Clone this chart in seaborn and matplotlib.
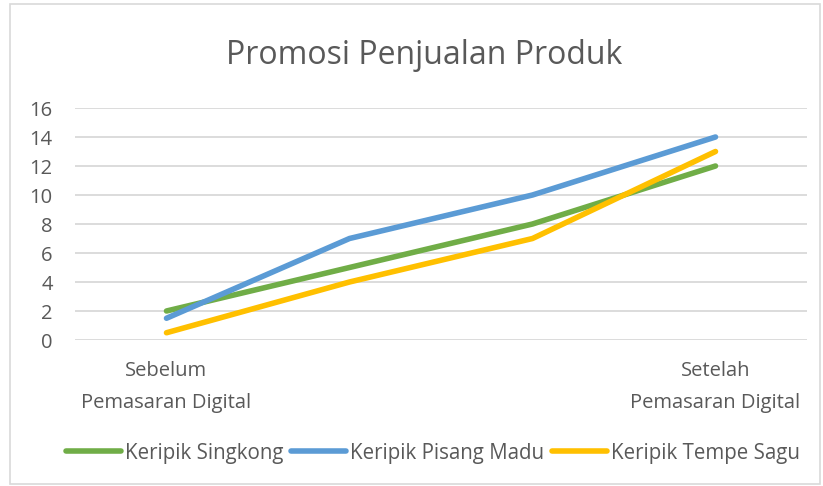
import matplotlib
matplotlib.use("Agg")
import matplotlib.pyplot as plt
import seaborn as sns
import pandas as pd
from matplotlib.patches import Rectangle

categories = ["Sebelum\nPemasaran Digital", "", "", "Setelah\nPemasaran Digital"]
series_names = ["Keripik Singkong", "Keripik Pisang Madu", "Keripik Tempe Sagu"]
singkong = [2, 5, 8, 12]
pisang_madu = [1.5, 7, 10, 14]
tempe_sagu = [0.5, 4, 7, 13]
colors = ["#70AD47", "#5B9BD5", "#FFC000"]

rows = []
for name, vals in zip(series_names, [singkong, pisang_madu, tempe_sagu]):
    for i, v in enumerate(vals):
        rows.append({"pos": i, "value": v, "series": name})
df = pd.DataFrame(rows)

sns.set_theme(style="white")
plt.rcParams["font.family"] = ["Open Sans", "DejaVu Sans"]
text_color = "#595959"

fig = plt.figure(figsize=(8.23, 4.86), dpi=100)
ax = fig.add_axes([75/823, 1-340/486, (807-75)/823, (340-108)/486])

sns.lineplot(data=df, x="pos", y="value", hue="series", hue_order=series_names,
             palette=colors, linewidth=4, ax=ax, legend=True,
             solid_capstyle="round")

ax.set_xlim(-0.5, 3.5)
ax.set_ylim(0, 16)
ax.set_yticks(range(0, 17, 2))
ax.set_xticks(range(len(categories)))
ax.set_xticklabels(categories, linespacing=1.8)
ax.yaxis.grid(True, color="#D9D9D9", linewidth=1.3)
ax.xaxis.grid(False)
for s in ax.spines.values():
    s.set_visible(False)
ax.tick_params(axis="both", length=0, labelsize=14.5, labelcolor=text_color)
ax.tick_params(axis="x", pad=15)
ax.tick_params(axis="y", pad=16)
ax.set_xlabel("")
ax.set_ylabel("")
ax.set_axisbelow(True)

fig.suptitle("Promosi Penjualan Produk", x=424/823, y=1-56/486, va="center",
             fontsize=23, color=text_color)

handles, labels = ax.get_legend_handles_labels()
ax.legend_.remove()
leg = fig.legend(handles, labels, loc="center", bbox_to_anchor=(433/823, 1-453/486),
                 ncol=3, frameon=False, fontsize=14.8, handlelength=2.7,
                 handletextpad=0.2, columnspacing=0.35, labelcolor=text_color)
for h in leg.get_lines():
    h.set_linewidth(4)

fig.patches.append(Rectangle((10/823, 2/486), 810/823, 480/486, transform=fig.transFigure,
                             fill=False, edgecolor="#D9D9D9", linewidth=1.2))

fig.savefig("out.png", dpi=100)
